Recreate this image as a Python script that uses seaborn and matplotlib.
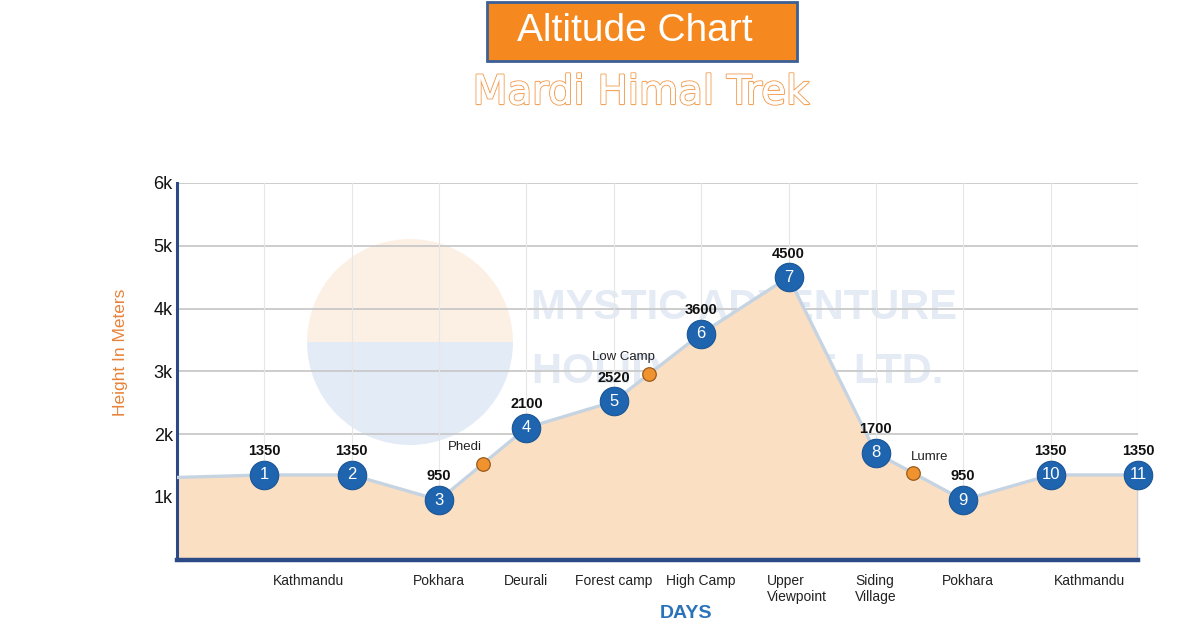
import matplotlib
matplotlib.use("Agg")
import matplotlib.pyplot as plt
import matplotlib.patheffects as pe
from matplotlib.patches import Rectangle, Wedge
import seaborn as sns
import pandas as pd

# Day numbers and altitudes (m) of the overnight stops
days = [1, 2, 3, 4, 5, 6, 7, 8, 9, 10, 11]
altitudes = [1350, 1350, 950, 2100, 2520, 3600, 4500, 1700, 950, 1350, 1350]

# start of the profile at the left edge
start_day = 0
start_alt = 1310

# passing points on the way (orange dots)
via_names = ["Phedi", "Low Camp", "Lumre"]
via_days = [3.5, 5.4, 8.42]
via_alts = [1525, 2952, 1385]

# place names under the axis
place_names = ["Kathmandu", "Pokhara", "Deurali", "Forest camp", "High Camp",
               "Upper\nViewpoint", "Siding\nVillage", "Pokhara", "Kathmandu"]
place_days = [1.5, 3, 4, 5, 6, 7.1, 8, 9.05, 10.45]

y_ticks = [1000, 2000, 3000, 4000, 5000, 6000]
y_tick_labels = ["1k", "2k", "3k", "4k", "5k", "6k"]

BLUE = "#1f64ae"
ORANGE = "#f28a2e"
NAVY = "#2c4a86"
FILL = "#fbdfc3"
LINE = "#c6d4e2"

sns.set_theme(style="white")
plt.rcParams["font.family"] = ["Liberation Sans", "DejaVu Sans"]

fig = plt.figure(figsize=(12, 6.31), dpi=100)
ax = fig.add_axes([0.1475, 0.113, 0.8008, 0.597])

# profile: stops + passing points, sorted by day
prof = pd.DataFrame({
    "day": [start_day] + days + via_days,
    "alt": [start_alt] + altitudes + via_alts,
}).sort_values("day")

ax.fill_between(prof["day"], prof["alt"], 0, color=FILL, zorder=1, lw=0)
sns.lineplot(data=prof, x="day", y="alt", ax=ax, color=LINE, lw=2.4,
             zorder=3, sort=True, estimator=None)
ax.vlines(days[-1], 0, altitudes[-1], color=LINE, lw=2.4, zorder=3)

# watermark logo + text
wm = fig.add_axes([0, 0, 1, 1], zorder=0.5)
wm.set_axis_off()
wm.set_xlim(0, 1200)
wm.set_ylim(631, 0)
wm.add_patch(Wedge((410, 342), 103, 180, 360, color="#fbe3cc", alpha=0.5, lw=0))
wm.add_patch(Wedge((410, 342), 103, 0, 180, color="#c8d9ee", alpha=0.5, lw=0))
wm.text(744, 308, "MYSTIC ADVENTURE", fontsize=30, fontweight="bold",
        color="#c4d3ea", alpha=0.45, ha="center", va="center")
wm.text(738, 372, "HOLIDAYS PVT. LTD.", fontsize=30, fontweight="bold",
        color="#c4d3ea", alpha=0.45, ha="center", va="center")
wm.patch.set_alpha(0)
ax.set_zorder(1)
ax.patch.set_alpha(0)

# day markers
stops = pd.DataFrame({"day": days, "alt": altitudes})
sns.scatterplot(data=stops, x="day", y="alt", ax=ax, s=420, color=BLUE,
                edgecolor="#1a5596", linewidth=0.8, zorder=5, clip_on=False)
for d, a in zip(days, altitudes):
    ax.text(d, a, str(d), color="white", fontsize=12, ha="center",
            va="center", zorder=6, clip_on=False)
    ax.annotate(str(a), (d, a), xytext=(0, 17), textcoords="offset points",
                ha="center", va="center", fontsize=10.5, fontweight="bold",
                color="#111111", zorder=6, annotation_clip=False)

# passing points
vias = pd.DataFrame({"day": via_days, "alt": via_alts})
sns.scatterplot(data=vias, x="day", y="alt", ax=ax, s=95, color="#f0922e",
                edgecolor="#9a5a1c", linewidth=0.9, zorder=5)
via_offsets = [(-13, 12), (-18, 12.5), (12, 11)]
for n, d, a, off in zip(via_names, via_days, via_alts, via_offsets):
    ax.annotate(n, (d, a), xytext=off, textcoords="offset points",
                ha="center", va="center", fontsize=9.5, color="#222222", zorder=6)

ax.set_xlim(0, 11)
ax.set_ylim(0, 6000)
ax.set_yticks(y_ticks)
ax.set_yticklabels(y_tick_labels, fontsize=13, color="#111111")
ax.set_xticks(place_days)
ax.set_xticklabels(place_names, fontsize=10, color="#222222", multialignment="left")
ax.tick_params(axis="both", length=0)
ax.tick_params(axis="x", pad=10)
ax.tick_params(axis="y", pad=3)

# grid
for v in y_ticks:
    ax.axhline(v, color="#c9c9c9", lw=1.3, zorder=0.8)
for d in days:
    ax.axvline(d, color="#e6e6e6", lw=0.8, zorder=0.8)

for s in ["top", "right"]:
    ax.spines[s].set_visible(False)
ax.spines["left"].set_color(NAVY)
ax.spines["left"].set_linewidth(2.2)
ax.spines["bottom"].set_color(NAVY)
ax.spines["bottom"].set_linewidth(3.2)
ax.spines["bottom"].set_zorder(4)

ax.set_xlabel("")
ax.set_ylabel("Height In Meters", color="#e8823a", fontsize=12.5)
ax.yaxis.set_label_coords(-0.051, 0.55)

fig.text(0.572, 0.027, "DAYS", color="#2a73b8", fontsize=14, fontweight="bold",
         ha="center", va="center")

# title box
fig.patches.append(Rectangle((487 / 1200, 1 - 61 / 631), 310 / 1200, 59 / 631,
                             transform=fig.transFigure, facecolor="#f5891f",
                             edgecolor="#3c5f95", lw=2))
fig.text(0.529, 1 - 31 / 631, "Altitude Chart", color="white", fontsize=28,
         ha="center", va="center")
fig.text(0.534, 1 - 93 / 631, "Mardi Himal Trek", color="white", fontsize=29,
         ha="center", va="center", family="DejaVu Sans",
         path_effects=[pe.withStroke(linewidth=1.6, foreground="#f3a35a"),
                       pe.Normal()])

fig.savefig("out.png", dpi=100)
